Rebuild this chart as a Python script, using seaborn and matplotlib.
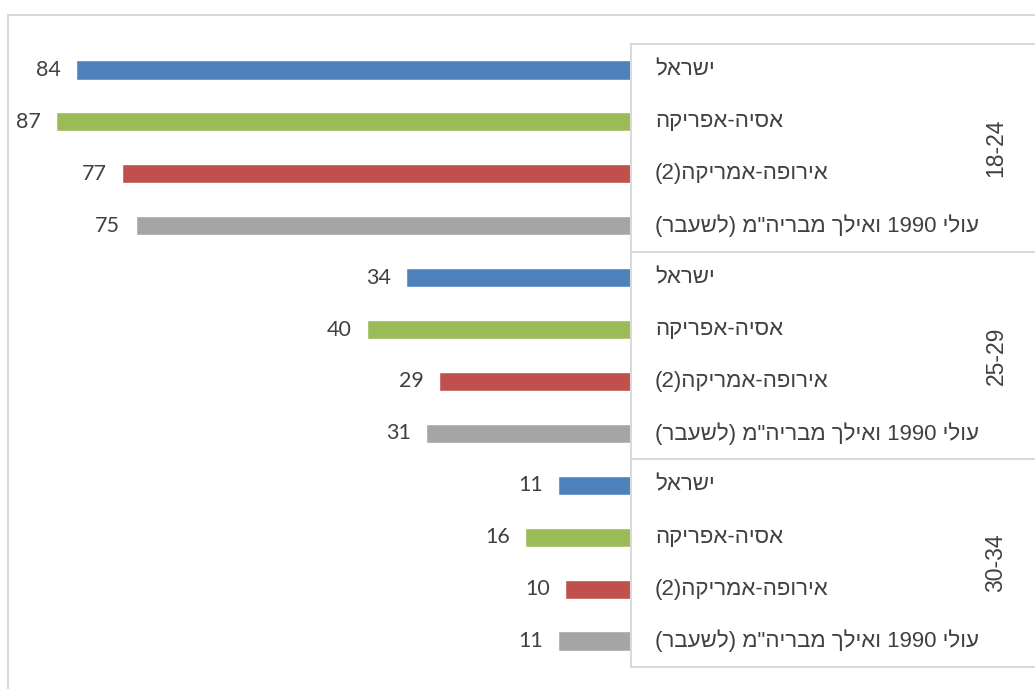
import re
import matplotlib.pyplot as plt
import matplotlib.transforms as mtransforms
import pandas as pd
import seaborn as sns

# Data (percent), grouped by age, four origins per group
age_groups = ['18-24', '25-29', '30-34']
origins = ['ישראל', 'אסיה-אפריקה', 'אירופה-אמריקה(2)', 'עולי 1990 ואילך מבריה"מ (לשעבר)']
values_18_24 = [84, 87, 77, 75]
values_25_29 = [34, 40, 29, 31]
values_30_34 = [11, 16, 10, 11]
colors = ['#4f81bd', '#9bbb59', '#c0504d', '#a5a5a5']


def visual(s):
    """matplotlib has no bidi: reverse RTL text, keep numbers, mirror brackets"""
    out = s[::-1]
    out = re.sub(r'\d+', lambda m: m.group(0)[::-1], out)
    return out.translate(str.maketrans('()', ')('))


rows = []
for age, vals in zip(age_groups, [values_18_24, values_25_29, values_30_34]):
    for origin, v in zip(origins, vals):
        rows.append({'row': f'{age} | {origin}', 'age': age, 'origin': origin, 'value': v})
df = pd.DataFrame(rows)

sns.set_theme(style='white')
plt.rcParams['font.family'] = ['Liberation Sans', 'DejaVu Sans']
label_font = ['Liberation Sans', 'DejaVu Sans']

W, H = 1035, 689
fig = plt.figure(figsize=(W / 100, H / 100), dpi=100)
ax = fig.add_axes([20 / W, 1 - 667 / H, (631 - 20) / W, (667 - 44) / H])

sns.barplot(data=df, x='value', y='row', hue='origin', orient='h', dodge=False,
            palette=dict(zip(origins, colors)), hue_order=origins, order=list(df['row']),
            width=0.37, saturation=1, legend=False, ax=ax)

ax.set_xlim(92.5, 0)
ax.set_ylim(len(df) - 0.5, -0.5)
ax.set_xticks([])
ax.set_yticks([])
ax.set(xlabel='', ylabel='')
for side in ['top', 'left', 'bottom']:
    ax.spines[side].set_visible(False)
ax.spines['right'].set_color('#d9d9d9')
ax.spines['right'].set_linewidth(1.5)

for cont in ax.containers:
    ax.bar_label(cont, fmt='%d', padding=11, fontsize=15.5, color='#404040',
                 family=['Lato', 'DejaVu Sans'])

# category table on the right
trans = mtransforms.blended_transform_factory(fig.transFigure, ax.transData)
for yy in [-0.5, 3.5, 7.5, 11.5]:
    ax.plot([631 / W, 1.0], [yy, yy], color='#d9d9d9', lw=1.5,
            transform=trans, clip_on=False)

for i, r in df.iterrows():
    ax.text(655 / W, i, visual(r['origin']), transform=trans, ha='left', va='center',
            fontsize=16, color='#404040', family=label_font, clip_on=False)

for g, age in enumerate(age_groups):
    ax.text(996 / W, g * 4 + 1.5, age, transform=trans, ha='center', va='center',
            rotation=90, fontsize=16.5, color='#404040', family=label_font, clip_on=False)

# outer chart frame (cropped on the right and bottom)
top = 1 - 15 / H
fig.add_artist(plt.Line2D([8 / W, 8 / W], [0, top], color='#d9d9d9', lw=1.5))
fig.add_artist(plt.Line2D([8 / W, 1], [top, top], color='#d9d9d9', lw=1.5))

fig.savefig('out.png', dpi=100, facecolor='white')
